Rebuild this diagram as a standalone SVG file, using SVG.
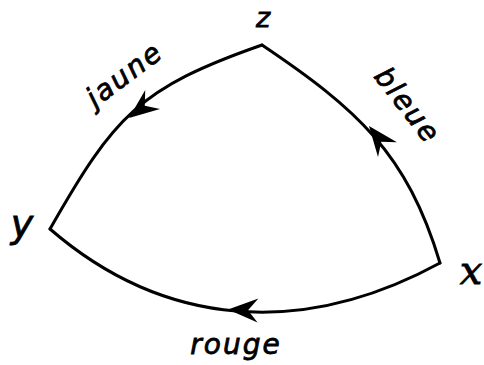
<svg xmlns="http://www.w3.org/2000/svg" width="484" height="365" viewBox="0 0 484 365">
<style>
.edge{fill:none;stroke:#000;stroke-width:3;stroke-linecap:round;stroke-linejoin:miter}
.lbl{font-family:"DejaVu Sans","Liberation Sans",sans-serif;font-style:italic;font-size:28px;letter-spacing:2px;fill:#000;stroke:#000;stroke-width:0.8}
.var{font-family:"DejaVu Sans","Liberation Sans",sans-serif;font-style:italic;fill:#000;stroke:#000;stroke-width:0.8}
.xv{font-family:"DejaVu Serif","Liberation Serif",serif;font-style:italic;fill:#000;stroke:#000;stroke-width:0.8}
</style>
<defs>
<path id="ah" d="M0,0 L-30,-12 L-20,0 L-30,12 Z" fill="#000"/>
</defs>
<rect width="484" height="365" fill="#fff"/>
<g id="connectors">
<path class="edge" d="M262,45 C139.3,87.9 114.2,115.9 50,229"/>
<path class="edge" d="M262,45 C357,109 407,153 440,263"/>
<path class="edge" d="M50,229 C164,327.5 302,338 440,263"/>
<use href="#ah" transform="translate(129,118) rotate(142)"/>
<use href="#ah" transform="translate(369,126) rotate(-128)"/>
<use href="#ah" transform="translate(228,309.5) rotate(182)"/>
<text class="lbl" text-anchor="middle" transform="translate(130,82) rotate(-37)">jaune</text>
<text class="lbl" text-anchor="middle" transform="translate(400,111) rotate(52)">bleue</text>
<text class="lbl" text-anchor="middle" x="236" y="354">rouge</text>
</g>
<g id="node-z"><text class="var" x="263" y="27" font-size="27" text-anchor="middle">z</text></g>
<g id="node-y"><text class="var" x="22" y="237" font-size="38" text-anchor="middle">y</text></g>
<g id="node-x"><text class="xv" x="471" y="284" font-size="40" text-anchor="middle">x</text></g>
</svg>
